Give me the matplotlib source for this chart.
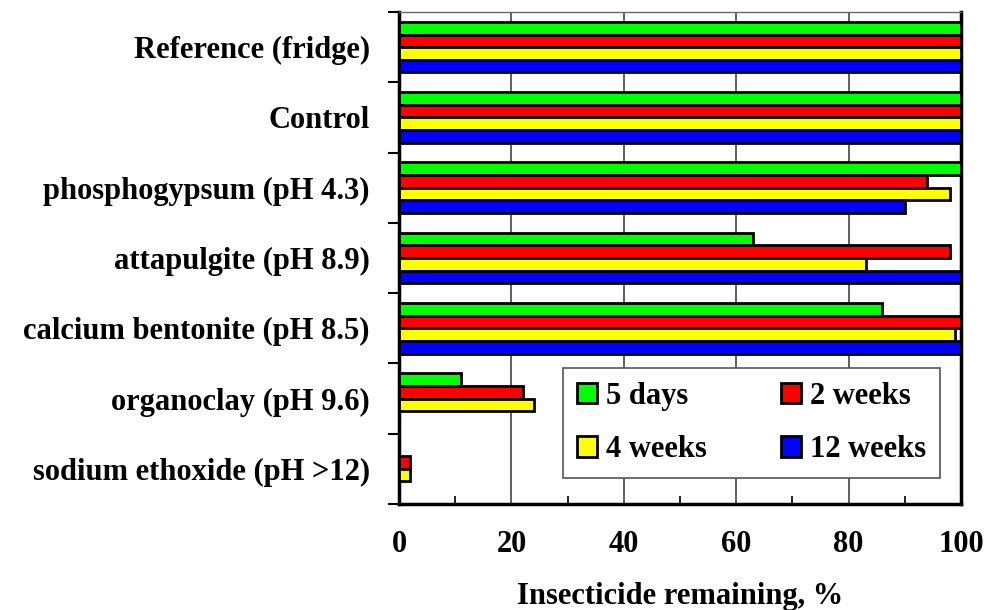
import numpy as np
import matplotlib.pyplot as plt
from matplotlib.ticker import MultipleLocator, FixedLocator

plt.rcParams['font.family'] = ['Liberation Serif', 'DejaVu Serif']
plt.rcParams['font.weight'] = 'bold'

# categories, top to bottom
categories = ['Reference (fridge)', 'Control', 'phosphogypsum (pH 4.3)',
              'attapulgite (pH 8.9)', 'calcium bentonite (pH 8.5)',
              'organoclay (pH 9.6)', 'sodium ethoxide (pH >12)']
series_names = ['5 days', '2 weeks', '4 weeks', '12 weeks']
days5 = [100, 100, 100, 63, 86, 11, 0]
weeks2 = [100, 100, 94, 98, 100, 22, 2]
weeks4 = [100, 100, 98, 83, 99, 24, 2]
weeks12 = [100, 100, 90, 100, 100, 0, 0]
colors = ['#00ff00', '#ff0000', '#ffff00', '#0000ff']

FS = 22

fig = plt.figure(figsize=(9.87, 6.10), dpi=100)
ax = fig.add_axes([0.4043, 0.1738, 0.5694, 0.8065])

y = np.arange(len(categories))
h = 0.18
all_series = [days5, weeks2, weeks4, weeks12]
bars = []
for k, (vals, name, c) in enumerate(zip(all_series, series_names, colors)):
    b = ax.barh(y + (k - 1.5) * h, vals, height=h, color=c, edgecolor='black',
                linewidth=2, label=name, zorder=3)
    bars.append(b)

ax.set_xlim(0, 100)
ax.set_ylim(len(categories) - 0.5, -0.5)

# y ticks: marks at the category boundaries, labels at the centres
ax.yaxis.set_major_locator(FixedLocator(np.arange(-0.5, len(categories), 1.0)))
ax.set_yticklabels([])
ax.set_yticks(y, minor=True)
ax.set_yticklabels(categories, minor=True, fontsize=FS, fontweight='bold')
ax.tick_params(axis='y', which='major', direction='out', length=8, width=1.5)
ax.tick_params(axis='y', which='minor', length=0, pad=21)

ax.xaxis.set_major_locator(MultipleLocator(20))
ax.xaxis.set_minor_locator(MultipleLocator(10))
ax.tick_params(axis='x', which='major', direction='in', length=0, pad=19,
               labelsize=FS)
ax.tick_params(axis='x', which='minor', direction='in', length=6, width=1.2)
for lbl in ax.get_xticklabels():
    lbl.set_fontweight('bold')

ax.grid(axis='x', which='major', color='#444444', linewidth=1.2, zorder=0)

for s in ['left', 'bottom', 'right']:
    ax.spines[s].set_linewidth(2.5)
ax.spines['top'].set_linewidth(1.0)
ax.spines['top'].set_color('#666666')

ax.set_xlabel('Insecticide remaining, %', fontsize=FS, fontweight='bold',
              labelpad=16)

# legend fills by column: reorder so rows read 5 days / 2 weeks, 4 weeks / 12 weeks
order = [0, 2, 1, 3]
leg = ax.legend([bars[i] for i in order], [series_names[i] for i in order],
                loc='upper left', bbox_to_anchor=(0.292, 0.049, 0.671, 0.227),
                mode='expand', ncol=2, fontsize=FS, frameon=True, fancybox=False,
                edgecolor='#555555', framealpha=1, handlelength=0.65,
                handleheight=0.65, handletextpad=0.3, labelspacing=0.8,
                borderpad=0.45, borderaxespad=0)
leg.get_frame().set_linewidth(1.2)
leg.set_zorder(5)

fig.savefig('out.png', dpi=100)
